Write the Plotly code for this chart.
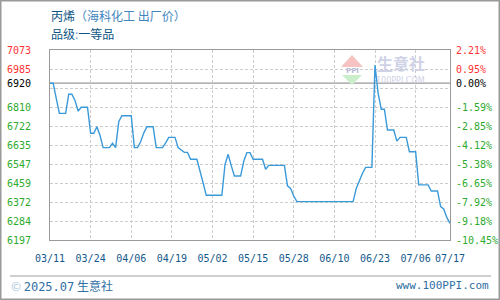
import plotly.graph_objects as go

# ---- data ----
dates = ["2025-03-11", "2025-03-12", "2025-03-13", "2025-03-14", "2025-03-16", "2025-03-17",
         "2025-03-18", "2025-03-19", "2025-03-20", "2025-03-21", "2025-03-23", "2025-03-24",
         "2025-03-25", "2025-03-26", "2025-03-27", "2025-03-28", "2025-03-30", "2025-03-31",
         "2025-04-01", "2025-04-02", "2025-04-03", "2025-04-06", "2025-04-07", "2025-04-08",
         "2025-04-09", "2025-04-10", "2025-04-11", "2025-04-13", "2025-04-14", "2025-04-16",
         "2025-04-17", "2025-04-18", "2025-04-20", "2025-04-21", "2025-04-22", "2025-04-23",
         "2025-04-24", "2025-04-25", "2025-04-27", "2025-04-28", "2025-04-29", "2025-04-30",
         "2025-05-05", "2025-05-06", "2025-05-07", "2025-05-08", "2025-05-09", "2025-05-11",
         "2025-05-12", "2025-05-13", "2025-05-14", "2025-05-15", "2025-05-18", "2025-05-19",
         "2025-05-20", "2025-05-25", "2025-05-26", "2025-05-27", "2025-05-28", "2025-05-29",
         "2025-06-16", "2025-06-17", "2025-06-18", "2025-06-19", "2025-06-20", "2025-06-22",
         "2025-06-23", "2025-06-24", "2025-06-25", "2025-06-26", "2025-06-27", "2025-06-29",
         "2025-06-30", "2025-07-01", "2025-07-03", "2025-07-04", "2025-07-06", "2025-07-07",
         "2025-07-10", "2025-07-11", "2025-07-13", "2025-07-14", "2025-07-15", "2025-07-16",
         "2025-07-17"]
prices = [6920, 6920, 6850, 6781, 6781, 6869,
          6869, 6840, 6792, 6809, 6809, 6689,
          6689, 6719, 6680, 6623, 6623, 6643,
          6623, 6742, 6770, 6770, 6623, 6623,
          6650, 6690, 6719, 6719, 6623, 6623,
          6645, 6670, 6670, 6623, 6612, 6601,
          6601, 6569, 6569, 6520, 6460, 6403,
          6403, 6545, 6592, 6540, 6492, 6492,
          6560, 6600, 6600, 6569, 6569, 6523,
          6541, 6541, 6447, 6435, 6400, 6374,
          6374, 6435, 6474, 6505, 6532, 6532,
          7004, 6873, 6800, 6800, 6704, 6704,
          6653, 6670, 6670, 6604, 6604, 6451,
          6451, 6423, 6423, 6351, 6340, 6300,
          6274]

base_price = 6920
y_min, y_max = 6197, 7073
grid_vals = [6197 + 87.6 * k for k in range(11)]
left_labels = ["6197", "6284", "6372", "6459", "6547", "6635", "6722", "6810", "6920", "6985", "7073"]
left_label_vals = [6197, 6284.6, 6372.2, 6459.8, 6547.4, 6635, 6722.6, 6810.2, 6920, 6985.4, 7073]
right_labels = ["-10.45%", "-9.18%", "-7.92%", "-6.65%", "-5.38%", "-4.12%", "-2.85%", "-1.59%",
                "0.00%", "0.95%", "2.21%"]
x_tick_dates = ["2025-03-11", "2025-03-24", "2025-04-06", "2025-04-19", "2025-05-02", "2025-05-15",
                "2025-05-28", "2025-06-10", "2025-06-23", "2025-07-06", "2025-07-17"]
x_tick_text = ["03/11", "03/24", "04/06", "04/19", "05/02", "05/15", "05/28", "06/10", "06/23",
               "07/06", "07/17"]

# ---- layout geometry helpers (plot area 50..450 x 50..240 px) ----
L, R, T, B = 50, 450, 50, 240
def px(x):
    return (x - L) / (R - L)
def py(y):
    return (B - y) / (B - T)

MONO = "DejaVu Sans Mono"
CJK = "Noto Sans CJK SC"
RED = "#ff3333"
GREEN = "#2eaa2e"

fig = go.Figure()
fig.add_trace(go.Scatter(x=dates, y=prices, mode="lines",
                         line=dict(color="#3a9ad9", width=1.4), hoverinfo="skip"))

annotations = []
for lab, val, rlab in zip(left_labels, left_label_vals, right_labels):
    if val > base_price:
        col = RED
    elif val == base_price:
        col = "#000000"
    else:
        col = GREEN
    annotations.append(dict(x=px(5), y=val, xref="paper", yref="y", text=lab, showarrow=False,
                            xanchor="left", yanchor="middle", font=dict(family=MONO, size=10, color=col)))
    annotations.append(dict(x=px(454), y=val, xref="paper", yref="y", text=rlab, showarrow=False,
                            xanchor="left", yanchor="middle", font=dict(family=MONO, size=10, color=col)))

annotations += [
    dict(x=px(49), y=py(15), xref="paper", yref="paper", showarrow=False, xanchor="left", yanchor="middle",
         text="丙烯<span style='color:#3f86bd'>（海科化工 出厂价）</span>",
         font=dict(family=CJK, size=12, color="#0e5585")),
    dict(x=px(49), y=py(34), xref="paper", yref="paper", showarrow=False, xanchor="left", yanchor="middle",
         text="品级<span style='color:#7aa6c8'>:</span>一等品",
         font=dict(family=CJK, size=12, color="#0e5585")),
    dict(x=px(9), y=py(285), xref="paper", yref="paper", showarrow=False, xanchor="left", yanchor="middle",
         text="<span style='color:#a8c4dc'>©</span> <span style='font-family:DejaVu Sans Mono'>2025.07</span> 生意社",
         font=dict(family=CJK, size=12, color="#2f6fa3")),
    dict(x=px(491), y=py(285), xref="paper", yref="paper", showarrow=False, xanchor="right", yanchor="middle",
         text="www.100PPI.com", font=dict(family=MONO, size=11, color="#2f6fa3")),
    # watermark
    dict(x=px(401), y=py(63), xref="paper", yref="paper", showarrow=False, xanchor="center", yanchor="middle",
         text="<b>生意社</b>", font=dict(family=CJK, size=16, color="#cfd2e6")),
    dict(x=px(400), y=py(81), xref="paper", yref="paper", showarrow=False, xanchor="center", yanchor="middle",
         text="100PPI.COM", font=dict(family="DejaVu Sans", size=8, color="#cfd2e6")),
    dict(x=px(352), y=py(71), xref="paper", yref="paper", showarrow=False, xanchor="center", yanchor="middle",
         text="<b>PPI</b>", font=dict(family="DejaVu Sans", size=7, color="#b9bcd6")),
]

shapes = [
    # outer frame
    dict(type="rect", xref="paper", yref="paper", x0=px(0.75), x1=px(499.25), y0=py(0.75), y1=py(299.25),
         line=dict(color="#9a9a9a", width=1.5), layer="below"),
    # footer separator
    dict(type="line", xref="paper", yref="paper", x0=px(10), x1=px(491), y0=py(276), y1=py(276),
         line=dict(color="#a0a0a0", width=1)),
    # base (zero change) line
    dict(type="line", xref="paper", yref="y", x0=0, x1=1, y0=base_price, y1=base_price,
         line=dict(color="#999999", width=1.2), layer="below"),
    # watermark triangles
    dict(type="path", xref="paper", yref="paper",
         path=f"M {px(341)},{py(67)} L {px(352)},{py(55)} L {px(363)},{py(67)} Z",
         fillcolor="#f6c2c2", line=dict(width=0), layer="below"),
    dict(type="path", xref="paper", yref="paper",
         path=f"M {px(342)},{py(75)} L {px(352)},{py(85)} L {px(362)},{py(75)} Z",
         fillcolor="#c9eec9", line=dict(width=0), layer="below"),
]

fig.update_layout(
    width=500, height=300,
    margin=dict(l=L, r=500 - R, t=T, b=300 - B),
    paper_bgcolor="white", plot_bgcolor="white",
    showlegend=False,
    annotations=annotations, shapes=shapes,
    xaxis=dict(type="date", range=["2025-03-11", "2025-07-17"],
               tickvals=x_tick_dates, ticktext=x_tick_text,
               tickfont=dict(family=MONO, size=10, color="#14598c"),
               ticks="outside", ticklen=9, tickcolor="rgba(0,0,0,0)",
               showgrid=True, gridcolor="#cccccc", griddash="3px,2px", gridwidth=1,
               showline=True, linecolor="#9a9a9a", linewidth=1, mirror=True,
               zeroline=False, fixedrange=True),
    yaxis=dict(range=[y_min, y_max], tickvals=grid_vals, showticklabels=False,
               showgrid=True, gridcolor="#cccccc", griddash="3px,2px", gridwidth=1,
               showline=True, linecolor="#9a9a9a", linewidth=1, mirror=True,
               zeroline=False, fixedrange=True),
)

fig.write_html("out.html", config={"displayModeBar": False})
